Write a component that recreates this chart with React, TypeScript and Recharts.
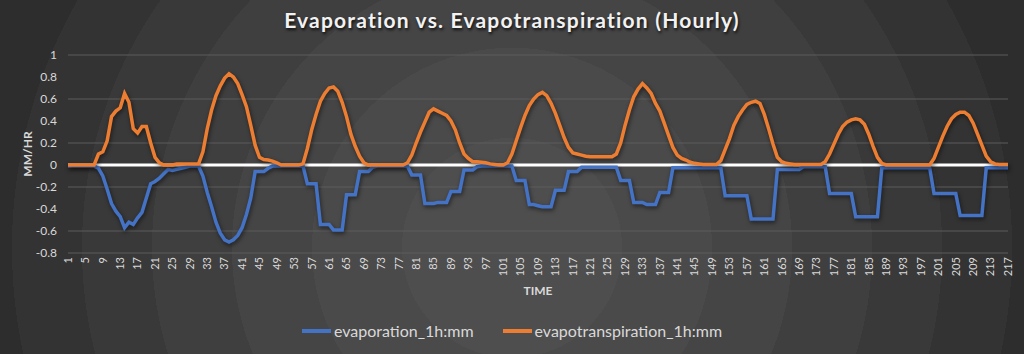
import { LineChart, Line, XAxis, YAxis, CartesianGrid, ReferenceLine } from 'recharts';

// hours 1..217
const hours = Array.from({ length: 217 }, (_, i) => i + 1);

const evaporation = [
	-0.01, -0.01, -0.01, -0.01, -0.01, -0.01, -0.01, -0.03, -0.1, -0.22, -0.35, -0.42,
	-0.47, -0.57, -0.52, -0.54, -0.48, -0.43, -0.3, -0.17, -0.15, -0.12, -0.08, -0.04,
	-0.05, -0.04, -0.03, -0.02, -0.01, -0.01, -0.01, -0.1, -0.25, -0.38, -0.52, -0.62,
	-0.68, -0.7, -0.68, -0.64, -0.57, -0.45, -0.3, -0.06, -0.06, -0.06, -0.03, -0.01,
	-0.01, -0.01, -0.01, -0.01, -0.01, -0.01, -0.01, -0.17, -0.17, -0.17, -0.54, -0.54,
	-0.54, -0.59, -0.59, -0.59, -0.27, -0.27, -0.27, -0.06, -0.06, -0.06, -0.02, -0.01,
	-0.01, -0.01, -0.01, -0.01, -0.01, -0.01, -0.01, -0.09, -0.09, -0.09, -0.35, -0.35,
	-0.35, -0.34, -0.34, -0.34, -0.24, -0.24, -0.24, -0.045, -0.045, -0.045, -0.015, -0.01,
	-0.01, -0.01, -0.01, -0.01, -0.01, -0.01, -0.01, -0.14, -0.14, -0.14, -0.36, -0.36,
	-0.37, -0.38, -0.38, -0.38, -0.23, -0.23, -0.23, -0.06, -0.06, -0.06, -0.02, -0.02,
	-0.02, -0.02, -0.02, -0.02, -0.02, -0.02, -0.02, -0.14, -0.14, -0.14, -0.34, -0.34,
	-0.34, -0.36, -0.36, -0.36, -0.25, -0.25, -0.25, -0.025, -0.025, -0.025, -0.025, -0.025,
	-0.025, -0.025, -0.025, -0.025, -0.025, -0.025, -0.025, -0.28, -0.28, -0.28, -0.28, -0.28,
	-0.28, -0.49, -0.49, -0.49, -0.49, -0.49, -0.49, -0.04, -0.04, -0.04, -0.04, -0.04,
	-0.04, -0.015, -0.015, -0.015, -0.015, -0.015, -0.015, -0.26, -0.26, -0.26, -0.26, -0.26,
	-0.26, -0.47, -0.47, -0.47, -0.47, -0.47, -0.47, -0.025, -0.025, -0.025, -0.025, -0.025,
	-0.025, -0.025, -0.025, -0.025, -0.025, -0.025, -0.025, -0.26, -0.26, -0.26, -0.26, -0.26,
	-0.26, -0.46, -0.46, -0.46, -0.46, -0.46, -0.46, -0.025, -0.025, -0.025, -0.025, -0.025,
	-0.025,
];

const evapotranspiration = [
	0, 0, 0, 0, 0, 0, 0, 0.1, 0.12, 0.22, 0.44, 0.49,
	0.52, 0.65, 0.57, 0.33, 0.29, 0.35, 0.35, 0.2, 0.07, 0.02, 0, 0,
	0, 0.01, 0.01, 0.01, 0.01, 0.01, 0.01, 0.12, 0.33, 0.5, 0.63, 0.72,
	0.79, 0.83, 0.8, 0.74, 0.64, 0.53, 0.36, 0.18, 0.07, 0.05, 0.045, 0.035,
	0.02, 0, 0, 0, 0, 0, 0.01, 0.15, 0.32, 0.46, 0.58, 0.65,
	0.7, 0.71, 0.67, 0.57, 0.44, 0.28, 0.17, 0.08, 0.02, 0, 0, 0,
	0, 0, 0, 0, 0, 0, 0.02, 0.09, 0.2, 0.3, 0.39, 0.48,
	0.51, 0.49, 0.47, 0.45, 0.4, 0.32, 0.2, 0.1, 0.06, 0.03, 0.03, 0.025,
	0.02, 0.01, 0.005, 0, 0, 0.02, 0.1, 0.22, 0.34, 0.45, 0.54, 0.6,
	0.64, 0.66, 0.63, 0.56, 0.47, 0.36, 0.25, 0.16, 0.11, 0.1, 0.09, 0.08,
	0.075, 0.075, 0.075, 0.075, 0.075, 0.075, 0.1, 0.2, 0.36, 0.5, 0.62, 0.69,
	0.74, 0.7, 0.65, 0.56, 0.49, 0.38, 0.27, 0.16, 0.09, 0.06, 0.045, 0.025,
	0.015, 0.01, 0.005, 0.005, 0.005, 0.005, 0.04, 0.14, 0.24, 0.36, 0.44, 0.5,
	0.55, 0.57, 0.58, 0.56, 0.46, 0.33, 0.19, 0.07, 0.03, 0.015, 0.01, 0.005,
	0.005, 0.005, 0.005, 0.005, 0.005, 0.005, 0.03, 0.1, 0.19, 0.28, 0.35, 0.39,
	0.41, 0.42, 0.41, 0.37, 0.28, 0.17, 0.07, 0.015, 0, 0, 0, 0,
	0, 0, 0, 0, 0, 0, 0, 0.06, 0.16, 0.26, 0.35, 0.42,
	0.46, 0.48, 0.48, 0.45, 0.38, 0.28, 0.18, 0.08, 0.03, 0.01, 0.005, 0.005,
	0.005,
];

const yTicks = [-0.8, -0.6, -0.4, -0.2, 0, 0.2, 0.4, 0.6, 0.8, 1];

const data = hours.map((t, i) => ({
	t,
	evaporation: evaporation[i],
	evapotranspiration: evapotranspiration[i],
}));

const BLUE = '#4472c4';
const ORANGE = '#ed7d31';
const TEXT = '#d9d9d9';
const FONT = 'Lato, "Open Sans", sans-serif';

const legendItems = [
	{ name: 'evaporation_1h:mm', color: BLUE },
	{ name: 'evapotranspiration_1h:mm', color: ORANGE },
];

export default function App() {
	return (
		<div
			style={{
				position: 'absolute',
				left: 0,
				top: 0,
				width: 1024,
				height: 354,
				overflow: 'hidden',
				background:
					'radial-gradient(circle at 50% 70%, #4e4e4e 0px, #4e4e4e 110px, #4a4a4a 110px, #4a4a4a 200px, #454545 200px, #454545 280px, #3f3f3f 280px, #3f3f3f 360px, #393939 360px, #393939 430px, #333333 430px, #333333 500px, #2d2d2d 500px, #2d2d2d 570px, #282828 570px)',
			}}
		>
			<style>{`.shadowed .recharts-curve { filter: drop-shadow(1px 2px 2px rgba(0,0,0,0.55)); }`}</style>
			<div
				style={{
					position: 'absolute',
					top: 7,
					width: 1024,
					textAlign: 'center',
					fontFamily: FONT,
					fontWeight: 700,
					fontSize: 21,
					letterSpacing: 1.2,
					color: '#f2f2f2',
					textShadow: '1px 2px 3px rgba(0,0,0,0.8)',
				}}
			>
				Evaporation vs. Evapotranspiration (Hourly)
			</div>
			<LineChart width={1024} height={354} data={data} margin={{ top: 55, right: 16, bottom: 61, left: 20 }}>
				<CartesianGrid vertical={false} stroke="#5c5c5c" strokeWidth={1} />
				<XAxis
					dataKey="t"
					interval={3}
					axisLine={false}
					tickLine={false}
					height={40}
					angle={-90}
					textAnchor="end"
					dy={-4}
					dx={-4}
					tick={{ fill: TEXT, fontSize: 11, fontFamily: FONT }}
					label={{ value: 'TIME', position: 'insideBottom', offset: -2, fill: TEXT, fontSize: 12, fontWeight: 700, fontFamily: FONT }}
				/>
				<YAxis
					type="number"
					domain={[-0.8, 1]}
					ticks={yTicks}
					axisLine={false}
					tickLine={false}
					width={48}
					tickMargin={5}
					tick={{ fill: TEXT, fontSize: 12, fontFamily: FONT }}
					label={{ value: 'MM/HR', angle: -90, position: 'insideLeft', offset: 0, dx: 8, fill: TEXT, fontSize: 12, fontWeight: 700, fontFamily: FONT, style: { textAnchor: 'middle' } }}
				/>
				<ReferenceLine y={0} stroke="#ffffff" strokeWidth={3} />
				<Line
					className="shadowed"
					type="linear"
					dataKey="evaporation"
					stroke={BLUE}
					strokeWidth={3.5}
					dot={false}
					isAnimationActive={false}
				/>
				<Line
					className="shadowed"
					type="linear"
					dataKey="evapotranspiration"
					stroke={ORANGE}
					strokeWidth={3.5}
					dot={false}
					isAnimationActive={false}
				/>
			</LineChart>
			{/* legend */}
			<div
				style={{
					position: 'absolute',
					top: 321,
					left: 0,
					width: 1024,
					display: 'flex',
					justifyContent: 'center',
					gap: 29,
					fontFamily: FONT,
					fontSize: 16,
					color: TEXT,
				}}
			>
				{legendItems.map((item) => (
					<div key={item.name} style={{ display: 'flex', alignItems: 'center' }}>
						<span style={{ display: 'inline-block', width: 29, height: 4, background: item.color, marginRight: 3 }} />
						<span>{item.name}</span>
					</div>
				))}
			</div>
		</div>
	);
}
